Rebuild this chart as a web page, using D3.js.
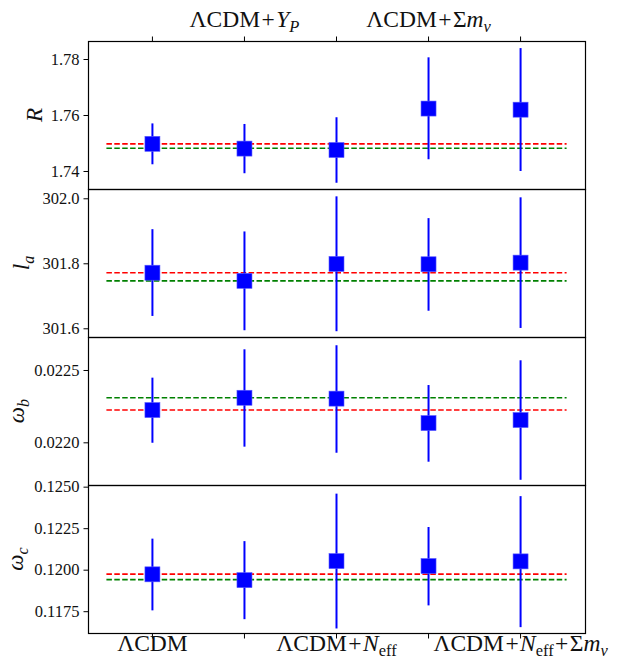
<!DOCTYPE html>
<html>
<head>
<meta charset="utf-8">
<script src="https://cdn.jsdelivr.net/npm/d3@7"></script>
<style>
  body { margin: 0; background: #fff; }
</style>
</head>
<body>
<div id="chart"></div>
<script>
// models along the x axis (index 0..4)
const models = ["LCDM", "LCDM+YP", "LCDM+Neff", "LCDM+mnu", "LCDM+Neff+mnu"];

// R
const R_val = [1.7497, 1.7480, 1.7475, 1.7623, 1.7619];
const R_lo  = [1.7424, 1.7392, 1.7358, 1.7442, 1.7400];
const R_hi  = [1.7570, 1.7568, 1.7592, 1.7806, 1.7839];
const R_ref = [1.7497, 1.7481];        // red, green

// l_a
const la_val = [301.771, 301.746, 301.798, 301.797, 301.802];
const la_lo  = [301.638, 301.594, 301.591, 301.654, 301.601];
const la_hi  = [301.905, 301.898, 302.006, 301.939, 302.003];
const la_ref = [301.771, 301.746];

// omega_b
const wb_val = [0.022223, 0.022308, 0.022302, 0.022133, 0.022154];
const wb_lo  = [0.021997, 0.021970, 0.021928, 0.021866, 0.021741];
const wb_hi  = [0.022447, 0.022643, 0.022671, 0.022396, 0.022567];
const wb_ref = [0.022223, 0.022308];

// omega_c
const wc_val = [0.11972, 0.11937, 0.12052, 0.12022, 0.12050];
const wc_lo  = [0.11755, 0.11702, 0.11646, 0.11785, 0.11654];
const wc_hi  = [0.12187, 0.12172, 0.12458, 0.12257, 0.12443];
const wc_ref = [0.11973, 0.11940];

// tick labels
const R_ticks  = [1.74, 1.76, 1.78];
const la_ticks = [301.6, 301.8, 302.0];
const wb_ticks = [0.0220, 0.0225];
const wc_ticks = [0.1175, 0.1200, 0.1225, 0.1250];

// rich labels: [text, kind]  kind: "" roman, "i" italic, "op" binary op, "s" italic sub, "sr" roman sub
const modelLabels = {
    "LCDM":          [["ΛCDM", ""]],
    "LCDM+YP":       [["ΛCDM", ""], ["+", "op"], ["Y", "i"], ["P", "s"]],
    "LCDM+Neff":     [["ΛCDM", ""], ["+", "op"], ["N", "i"], ["eff", "sr"]],
    "LCDM+mnu":      [["ΛCDM", ""], ["+", "op"], ["Σ", ""], ["m", "i"], ["ν", "s"]],
    "LCDM+Neff+mnu": [["ΛCDM", ""], ["+", "op"], ["N", "i"], ["eff", "sr"], ["+", "op"], ["Σ", ""], ["m", "i"], ["ν", "s"]]
};
const topModels = ["LCDM+YP", "LCDM+mnu"];
const bottomModels = ["LCDM", "LCDM+Neff", "LCDM+Neff+mnu"];

const panels = [
    {label: [["R", "i"]], val: R_val, lo: R_lo, hi: R_hi, ref: R_ref, ticks: R_ticks, fmt: ".2f",
     domain: [1.73357, 1.78643], labelX: 42},
    {label: [["l", "i"], ["a", "s"]], val: la_val, lo: la_lo, hi: la_hi, ref: la_ref, ticks: la_ticks, fmt: ".1f",
     domain: [301.5732, 302.0286], labelX: 29},
    {label: [["ω", "i"], ["b", "s"]], val: wb_val, lo: wb_lo, hi: wb_hi, ref: wb_ref, ticks: wb_ticks, fmt: ".4f",
     domain: [0.021705, 0.022728], labelX: 24},
    {label: [["ω", "i"], ["c", "s"]], val: wc_val, lo: wc_lo, hi: wc_hi, ref: wc_ref, ticks: wc_ticks, fmt: ".4f",
     domain: [0.116187, 0.125100], labelX: 23}
];

const W = 623, H = 661;
const plotLeft = 88, plotRight = 585, plotTop = 41, panelH = 148;
const serif = '"Liberation Serif", "DejaVu Serif", serif';

const svg = d3.select("#chart").append("svg")
    .attr("width", W)
    .attr("height", H);

const x = d3.scaleLinear().domain([-0.7, 4.7]).range([plotLeft, plotRight]);

// write a label made of tspans (italics, subscripts, spaced operators)
function richText(t, parts, fs) {
    let shift = 0, pad = 0;
    parts.forEach(([s, k]) => {
        const sub = (k === "s" || k === "sr");
        const off = sub ? fs * 0.22 : 0;
        const ts = t.append("tspan").text(s);
        ts.attr("dy", off - shift);
        shift = off;
        let dx = pad;
        pad = 0;
        if (k === "op") { dx += fs * 0.06; pad = fs * 0.06; }
        if (dx) ts.attr("dx", dx);
        if (k === "i" || k === "s") ts.style("font-style", "italic");
        if (sub) ts.style("font-size", (fs * 0.7) + "px");
    });
}

panels.forEach((p, i) => {
    const y0 = plotTop + i * panelH;
    const y = d3.scaleLinear().domain(p.domain).range([y0 + panelH, y0]);
    const g = svg.append("g");

    // y axis
    const yAxis = d3.axisLeft(y).tickValues(p.ticks).tickFormat(d3.format(p.fmt)).tickSize(4.5).tickPadding(4);
    const ya = g.append("g").attr("transform", `translate(${plotLeft},0)`).call(yAxis);
    ya.select(".domain").remove();
    ya.selectAll("line").attr("stroke", "#000");
    ya.selectAll("text")
        .style("font-family", serif)
        .style("font-size", "16.5px")
        .attr("fill", "#111");

    // reference lines
    [["#ff0000", p.ref[0]], ["#008000", p.ref[1]]].forEach(([c, v]) => {
        g.append("line")
            .attr("x1", x(-0.5)).attr("x2", x(4.5))
            .attr("y1", y(v)).attr("y2", y(v))
            .attr("stroke", c)
            .attr("stroke-width", 1.6)
            .attr("stroke-dasharray", "5.5,2.4");
    });

    // error bars
    g.selectAll(".err").data(p.val).enter().append("line")
        .attr("x1", (d, j) => x(j)).attr("x2", (d, j) => x(j))
        .attr("y1", (d, j) => y(p.lo[j]))
        .attr("y2", (d, j) => y(p.hi[j]))
        .attr("stroke", "#0000ff")
        .attr("stroke-width", 2);

    // square markers
    g.selectAll(".pt").data(p.val).enter().append("rect")
        .attr("x", (d, j) => x(j) - 7.5)
        .attr("y", d => y(d) - 7.5)
        .attr("width", 15).attr("height", 15)
        .attr("fill", "#0000ff")
        .attr("stroke", "#5a5aff")
        .attr("stroke-width", 0.6);

    // frame
    g.append("rect")
        .attr("x", plotLeft + 0.5).attr("y", y0 + 0.5)
        .attr("width", plotRight - plotLeft).attr("height", panelH)
        .attr("fill", "none")
        .attr("stroke", "#000")
        .attr("stroke-width", 1.2);

    // y label
    const lt = g.append("text")
        .attr("transform", `translate(${p.labelX},${y0 + panelH / 2}) rotate(-90)`)
        .attr("text-anchor", "middle")
        .attr("fill", "#111")
        .style("font-family", serif)
        .style("font-size", "23px");
    richText(lt, p.label, 23);
});

// x ticks top and bottom
const xTicks = d3.range(models.length);
const topY = plotTop, botY = plotTop + 4 * panelH;
svg.append("g").selectAll("line").data(xTicks).enter().append("line")
    .attr("x1", d => x(d)).attr("x2", d => x(d))
    .attr("y1", topY).attr("y2", topY - 4.5)
    .attr("stroke", "#000");
svg.append("g").selectAll("line").data(xTicks).enter().append("line")
    .attr("x1", d => x(d)).attr("x2", d => x(d))
    .attr("y1", botY + 1).attr("y2", botY + 5.5)
    .attr("stroke", "#000");

// model labels
function modelLabel(m, yPos) {
    const t = svg.append("text")
        .attr("x", x(models.indexOf(m))).attr("y", yPos)
        .attr("text-anchor", "middle")
        .attr("fill", "#111")
        .style("font-family", serif)
        .style("font-size", "23.5px");
    richText(t, modelLabels[m], 23.5);
}
topModels.forEach(m => modelLabel(m, 27));
bottomModels.forEach(m => modelLabel(m, 651));
</script>
</body>
</html>
